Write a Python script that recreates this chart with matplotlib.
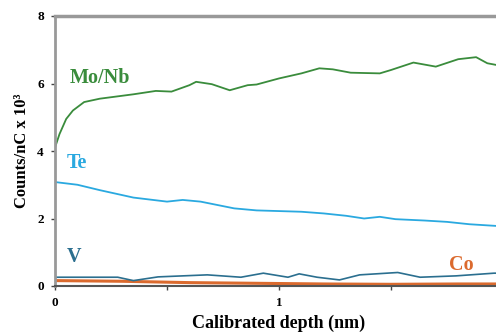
import matplotlib.pyplot as plt

# depth (nm) and counts/nC x 10^3
mo_x = [0, 0.02, 0.05, 0.08, 0.13, 0.2, 0.35, 0.45, 0.52, 0.6, 0.63, 0.7, 0.78, 0.86, 0.9,
        1.0, 1.1, 1.18, 1.24, 1.32, 1.45, 1.5, 1.6, 1.7, 1.8, 1.88, 1.93, 1.97, 2.0]
mo_y = [4.1, 4.5, 4.95, 5.2, 5.45, 5.55, 5.68, 5.78, 5.76, 5.95, 6.05, 5.98, 5.8, 5.95, 5.97,
        6.15, 6.3, 6.45, 6.42, 6.32, 6.3, 6.4, 6.62, 6.5, 6.72, 6.78, 6.6, 6.55, 6.5]

te_x = [0, 0.1, 0.2, 0.35, 0.5, 0.57, 0.65, 0.8, 0.9, 1.0, 1.1, 1.2, 1.3, 1.38, 1.45,
        1.52, 1.65, 1.75, 1.85, 1.97, 2.0]
te_y = [3.08, 3.0, 2.84, 2.62, 2.5, 2.55, 2.5, 2.3, 2.24, 2.22, 2.2, 2.15, 2.08, 2.0, 2.05,
        1.98, 1.94, 1.9, 1.83, 1.78, 1.77]

v_x = [0, 0.01, 0.28, 0.35, 0.46, 0.68, 0.83, 0.93, 1.04, 1.09, 1.17, 1.27, 1.36, 1.53,
       1.63, 1.79, 1.96, 2.0]
v_y = [0.26, 0.26, 0.26, 0.16, 0.27, 0.33, 0.26, 0.38, 0.26, 0.36, 0.26, 0.18, 0.33, 0.4,
       0.26, 0.3, 0.38, 0.38]

co_x = [0, 0.3, 0.6, 0.9, 1.2, 1.5, 1.8, 2.0]
co_y = [0.16, 0.14, 0.1, 0.08, 0.06, 0.05, 0.06, 0.06]

plt.rcParams['font.family'] = ['Liberation Serif', 'DejaVu Serif']
plt.rcParams['font.weight'] = 'bold'

fig = plt.figure(figsize=(4.96, 3.36), dpi=100)
ax = fig.add_axes([55/496, 50/336, 448/496, 270/336])

ax.plot(co_x, co_y, color='#db6a2e', lw=2.2)
ax.plot(v_x, v_y, color='#2b6f8f', lw=1.2)
ax.plot(te_x, te_y, color='#2aa9e0', lw=1.3)
ax.plot(mo_x, mo_y, color='#3a8c3c', lw=1.3)

ax.text(0.067, 6.16, 'Mo/Nb', color='#3a8c3c', fontsize=14.5, fontweight='bold', va='center')
ax.text(0.054, 3.64, 'Te', color='#2aa9e0', fontsize=14.5, fontweight='bold', va='center')
ax.text(0.054, 0.86, 'V', color='#2b6f8f', fontsize=14.5, fontweight='bold', va='center')
ax.text(1.76, 0.62, 'Co', color='#db6a2e', fontsize=14.5, fontweight='bold', va='center')

ax.set_xlim(0, 2)
ax.set_ylim(0, 8)
ax.set_yticks([0, 2, 4, 6, 8])
ax.set_xticks([0, 0.5, 1, 1.5])
ax.set_xticklabels(['0', '', '1', ''])
ax.tick_params(labelsize=9.5, length=3, width=1, color='#444444', pad=5)

for s in ['top', 'left']:
    ax.spines[s].set_color('#999999')
ax.spines['top'].set_linewidth(2.5)
ax.spines['left'].set_linewidth(2)
ax.spines['bottom'].set_color('#555555')
ax.spines['bottom'].set_linewidth(1.5)
ax.spines['right'].set_visible(False)

ax.set_xlabel('Calibrated depth (nm)', fontsize=13, fontweight='bold', labelpad=4)
ax.set_ylabel('Counts/nC x 10³', fontsize=12, fontweight='bold', labelpad=5)

fig.savefig('out.png', dpi=100)
